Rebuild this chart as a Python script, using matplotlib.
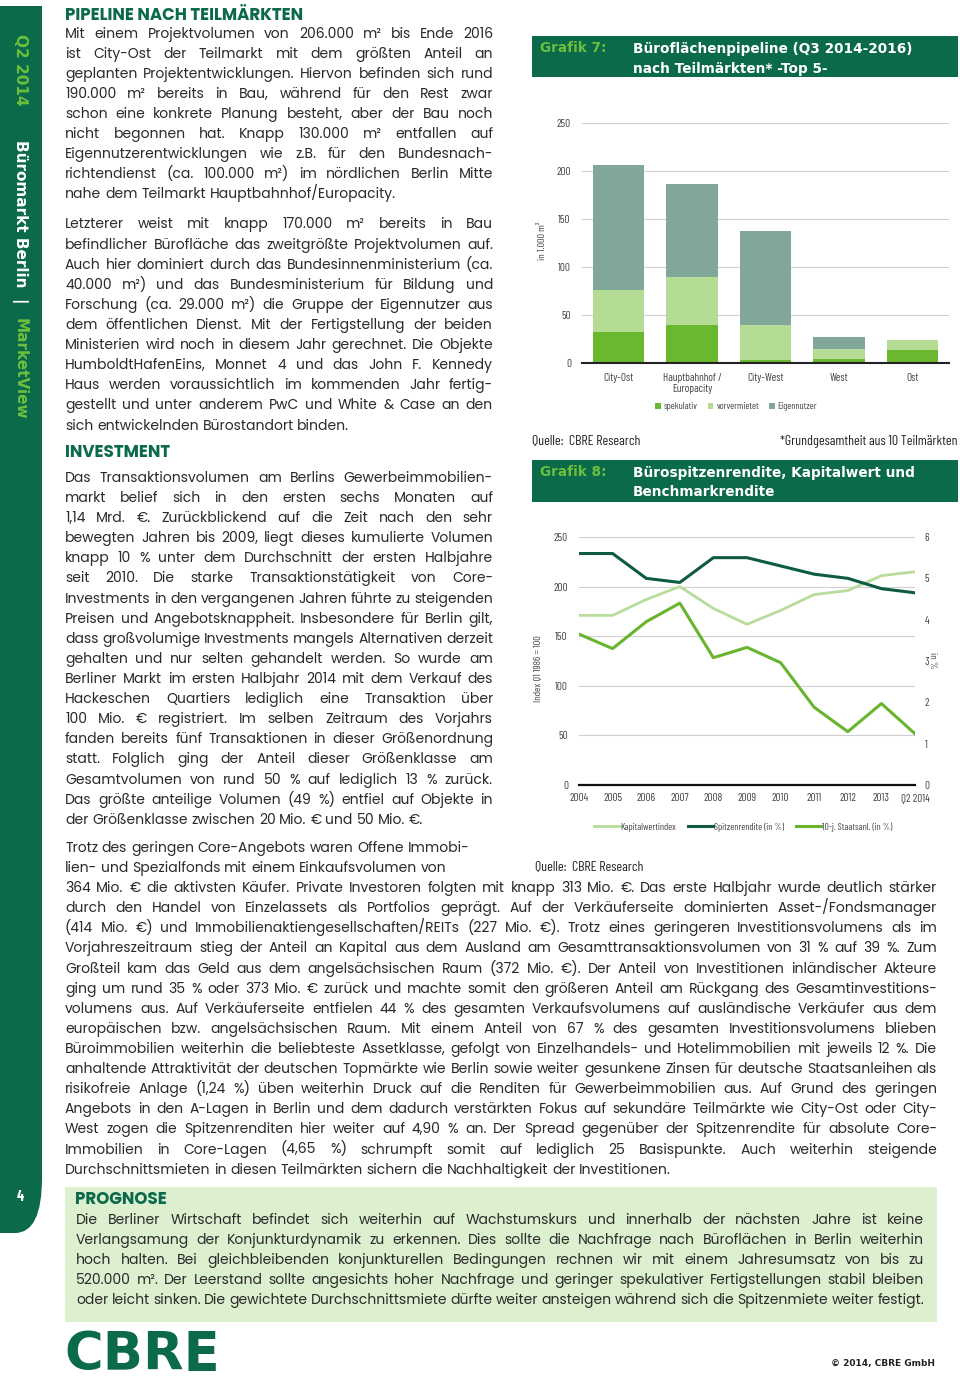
import matplotlib
matplotlib.use('Agg')
import matplotlib.pyplot as plt
from matplotlib import font_manager
from matplotlib.patches import Rectangle, FancyBboxPatch
from matplotlib.lines import Line2D

# ---------------- data: Grafik 7 (in 1.000 m²) ----------------
teilmaerkte = ['City-Ost', 'Hauptbahnhof /\nEuropacity', 'City-West', 'West', 'Ost']
spekulativ = [32, 40, 3.5, 4, 14]
vorvermietet = [44, 50, 36.5, 11, 9.5]
eigennutzer = [130, 96, 98, 12, 0]

# ---------------- data: Grafik 8 ----------------
jahre = ['2004', '2005', '2006', '2007', '2008', '2009', '2010', '2011', '2012', '2013', 'Q2 2014']
kapitalwertindex = [171, 171, 187, 200, 178, 162, 176, 192, 196, 211, 215]
spitzenrendite = [5.6, 5.6, 5.0, 4.9, 5.5, 5.5, 5.3, 5.1, 5.0, 4.75, 4.65]
staatsanleihe = [3.65, 3.3, 3.95, 4.4, 3.08, 3.33, 2.96, 1.88, 1.29, 1.97, 1.24]

# ---------------- text ----------------
para_pipeline_1 = [
    "Mit einem Projektvolumen von 206.000 m² bis Ende 2016",
    "ist City-Ost der Teilmarkt mit dem größten Anteil an",
    "geplanten Projektentwicklungen. Hiervon befinden sich rund",
    "190.000 m² bereits in Bau, während für den Rest zwar",
    "schon eine konkrete Planung besteht, aber der Bau noch",
    "nicht begonnen hat. Knapp 130.000 m² entfallen auf",
    "Eigennutzerentwicklungen wie z.B. für den Bundesnach-",
    "richtendienst (ca. 100.000 m²) im nördlichen Berlin Mitte",
    "nahe dem Teilmarkt Hauptbahnhof/Europacity.",
]
para_pipeline_2 = [
    "Letzterer weist mit knapp 170.000 m² bereits in Bau",
    "befindlicher Bürofläche das zweitgrößte Projektvolumen auf.",
    "Auch hier dominiert durch das Bundesinnenministerium (ca.",
    "40.000 m²) und das Bundesministerium für Bildung und",
    "Forschung (ca. 29.000 m²) die Gruppe der Eigennutzer aus",
    "dem öffentlichen Dienst. Mit der Fertigstellung der beiden",
    "Ministerien wird noch in diesem Jahr gerechnet. Die Objekte",
    "HumboldtHafenEins, Monnet 4 und das John F. Kennedy",
    "Haus werden voraussichtlich im kommenden Jahr fertig-",
    "gestellt und unter anderem PwC und White & Case an den",
    "sich entwickelnden Bürostandort binden.",
]
para_invest_1 = [
    "Das Transaktionsvolumen am Berlins Gewerbeimmobilien-",
    "markt belief sich in den ersten sechs Monaten auf",
    "1,14 Mrd. €. Zurückblickend auf die Zeit nach den sehr",
    "bewegten Jahren bis 2009, liegt dieses kumulierte Volumen",
    "knapp 10 % unter dem Durchschnitt der ersten Halbjahre",
    "seit 2010. Die starke Transaktionstätigkeit von Core-",
    "Investments in den vergangenen Jahren führte zu steigenden",
    "Preisen und Angebotsknappheit. Insbesondere für Berlin gilt,",
    "dass großvolumige Investments mangels Alternativen derzeit",
    "gehalten und nur selten gehandelt werden. So wurde am",
    "Berliner Markt im ersten Halbjahr 2014 mit dem Verkauf des",
    "Hackeschen Quartiers lediglich eine Transaktion über",
    "100 Mio. € registriert. Im selben Zeitraum des Vorjahrs",
    "fanden bereits fünf Transaktionen in dieser Größenordnung",
    "statt. Folglich ging der Anteil dieser Größenklasse am",
    "Gesamtvolumen von rund 50 % auf lediglich 13 % zurück.",
    "Das größte anteilige Volumen (49 %) entfiel auf Objekte in",
    "der Größenklasse zwischen 20 Mio. € und 50 Mio. €.",
]
para_invest_2_short = [
    "Trotz des geringen Core-Angebots waren Offene Immobi-",
    "lien- und Spezialfonds mit einem Einkaufsvolumen von",
]
para_invest_2_wide = [
    "364 Mio. € die aktivsten Käufer. Private Investoren folgten mit knapp 313 Mio. €. Das erste Halbjahr wurde deutlich stärker",
    "durch den Handel von Einzelassets als Portfolios geprägt. Auf der Verkäuferseite dominierten Asset-/Fondsmanager",
    "(414 Mio. €) und Immobilienaktiengesellschaften/REITs (227 Mio. €). Trotz eines geringeren Investitionsvolumens als im",
    "Vorjahreszeitraum stieg der Anteil an Kapital aus dem Ausland am Gesamttransaktionsvolumen von 31 % auf 39 %. Zum",
    "Großteil kam das Geld aus dem angelsächsischen Raum (372 Mio. €). Der Anteil von Investitionen inländischer Akteure",
    "ging um rund 35 % oder 373 Mio. € zurück und machte somit den größeren Anteil am Rückgang des Gesamtinvestitions-",
    "volumens aus. Auf Verkäuferseite entfielen 44 % des gesamten Verkaufsvolumens auf ausländische Verkäufer aus dem",
    "europäischen bzw. angelsächsischen Raum. Mit einem Anteil von 67 % des gesamten Investitionsvolumens blieben",
    "Büroimmobilien weiterhin die beliebteste Assetklasse, gefolgt von Einzelhandels- und Hotelimmobilien mit jeweils 12 %. Die",
    "anhaltende Attraktivität der deutschen Topmärkte wie Berlin sowie weiter gesunkene Zinsen für deutsche Staatsanleihen als",
    "risikofreie Anlage (1,24 %) üben weiterhin Druck auf die Renditen für Gewerbeimmobilien aus. Auf Grund des geringen",
    "Angebots in den A-Lagen in Berlin und dem dadurch verstärkten Fokus auf sekundäre Teilmärkte wie City-Ost oder City-",
    "West zogen die Spitzenrenditen hier weiter auf 4,90 % an. Der Spread gegenüber der Spitzenrendite für absolute Core-",
    "Immobilien in Core-Lagen (4,65 %) schrumpft somit auf lediglich 25 Basispunkte. Auch weiterhin steigende",
    "Durchschnittsmieten in diesen Teilmärkten sichern die Nachhaltigkeit der Investitionen.",
]
para_prognose = [
    "Die Berliner Wirtschaft befindet sich weiterhin auf Wachstumskurs und innerhalb der nächsten Jahre ist keine",
    "Verlangsamung der Konjunkturdynamik zu erkennen. Dies sollte die Nachfrage nach Büroflächen in Berlin weiterhin",
    "hoch halten. Bei gleichbleibenden konjunkturellen Bedingungen rechnen wir mit einem Jahresumsatz von bis zu",
    "520.000 m². Der Leerstand sollte angesichts hoher Nachfrage und geringer spekulativer Fertigstellungen stabil bleiben",
    "oder leicht sinken. Die gewichtete Durchschnittsmiete dürfte weiter ansteigen während sich die Spitzenmiete weiter festigt.",
]

# ---------------- colours / fonts ----------------
DARK_GREEN = '#0b6a4a'
LIGHT_GREEN = '#6cbf3e'
TXT = '#2a2a2a'
C_SPEK = '#6ab82e'
C_VORV = '#b5dc95'
C_EIG = '#80a797'
C_KAP = '#b8dc9c'
C_SPITZE = '#0e5a44'
C_STAAT = '#68b42f'

avail = {f.name for f in font_manager.fontManager.ttflist}


def pick(cands):
    for c in cands:
        if c in avail:
            return c
    return 'DejaVu Sans'


BODY = pick(['Poppins'])
NARROW = pick(['Barlow Condensed', 'Archivo Narrow', 'Fira Sans Extra Condensed', 'Liberation Sans Narrow'])
BODY_SIZE = 10.0 if BODY == 'Poppins' else 10.2
HEAD_SIZE = 12.0 if BODY == 'Poppins' else 10.5

W, H = 960, 1376
fig = plt.figure(figsize=(W / 100, H / 100), dpi=100)
renderer = fig.canvas.get_renderer()


def fx(x):
    return x / W


def fy(y):
    return 1 - y / H


def put_line(text, x0, x1, y, justify, size=BODY_SIZE, color=TXT):
    words = text.split(' ')
    objs = [fig.text(0, fy(y), w, fontsize=size, color=color, family=BODY,
                     ha='left', va='baseline') for w in words]
    widths = [o.get_window_extent(renderer).width for o in objs]
    sp = fig.text(0, 0, 'a a', fontsize=size, family=BODY)
    sp2 = fig.text(0, 0, 'aa', fontsize=size, family=BODY)
    space = sp.get_window_extent(renderer).width - sp2.get_window_extent(renderer).width
    sp.remove()
    sp2.remove()
    natural = sum(widths) + space * (len(words) - 1)
    if (justify or natural > x1 - x0) and len(words) > 1:
        gap = (x1 - x0 - sum(widths)) / (len(words) - 1)
    else:
        gap = space
    x = x0
    for o, w in zip(objs, widths):
        o.set_x(fx(x))
        x += w + gap


def put_par(lines, x0, x1, y0, step=20.1):
    for i, ln in enumerate(lines):
        put_line(ln, x0, x1, y0 + i * step, justify=(i < len(lines) - 1))


def heading(x, y, s):
    fig.text(fx(x), fy(y), s, fontsize=HEAD_SIZE, fontweight='bold', family=BODY,
             color=DARK_GREEN, ha='left', va='baseline')


# ---------------- sidebar ----------------
fig.patches.append(Rectangle((0, fy(1180)), fx(42), fy(6) - fy(1180),
                             transform=fig.transFigure, color=DARK_GREEN, lw=0))
fig.patches.append(FancyBboxPatch((fx(-60), fy(1233)), fx(102), fy(1120) - fy(1233),
                                  boxstyle='round,pad=0,rounding_size=0.028',
                                  transform=fig.transFigure, color=DARK_GREEN, lw=0,
                                  mutation_aspect=H / W))
fig.text(fx(20), fy(34), 'Q2 2014', rotation=270, ha='center', va='top',
         fontsize=11, fontweight='bold', color=LIGHT_GREEN)
fig.text(fx(20), fy(140), 'Büromarkt Berlin  |  ', rotation=270, ha='center', va='top',
         fontsize=11, fontweight='bold', color='white')
fig.text(fx(20), fy(318), 'MarketView', rotation=270, ha='center', va='top',
         fontsize=11, fontweight='bold', color=LIGHT_GREEN)
fig.text(fx(20), fy(1197), '4', ha='center', va='center', fontsize=10.5,
         fontweight='bold', color='white', family=NARROW)

# ---------------- left column text ----------------
heading(65, 20.5, 'PIPELINE NACH TEILMÄRKTEN')
put_par(para_pipeline_1, 65, 493, 37.5)
put_par(para_pipeline_2, 65, 493, 228.5)
heading(65, 456.5, 'INVESTMENT')
put_par(para_invest_1, 65, 493, 482)
for i, ln in enumerate(para_invest_2_short):
    put_line(ln, 65, 493, 852 + i * 20.1, justify=False)
put_par(para_invest_2_wide, 65, 937, 852 + 2 * 20.1)

# ---------------- Prognose box ----------------
fig.patches.append(Rectangle((fx(65), fy(1322)), fx(937) - fx(65), fy(1187) - fy(1322),
                             transform=fig.transFigure, color='#dcefcf', lw=0))
heading(75, 1203.5, 'PROGNOSE')
put_par(para_prognose, 76, 924, 1224)

# ---------------- footer ----------------
fig.text(fx(64), fy(1370), 'CBRE', fontsize=38, fontweight='bold', color=DARK_GREEN,
         ha='left', va='baseline')
fig.text(fx(935), fy(1366), '© 2014, CBRE GmbH', fontsize=6.5, fontweight='bold',
         color='#222222', ha='right', va='baseline')


# ---------------- chart headers ----------------
def header(y_top, y_bot, line1, line2, label):
    fig.patches.append(Rectangle((fx(532), fy(y_bot)), fx(958) - fx(532), fy(y_top) - fy(y_bot),
                                 transform=fig.transFigure, color=DARK_GREEN, lw=0))
    fig.text(fx(540), fy(y_top + 16.5), label, fontsize=9.8, fontweight='bold',
             color=LIGHT_GREEN, ha='left', va='baseline')
    fig.text(fx(633), fy(y_top + 16.5), line1, fontsize=9.8, fontweight='bold',
             color='white', ha='left', va='baseline')
    fig.text(fx(633), fy(y_top + 36.5), line2, fontsize=9.8, fontweight='bold',
             color='white', ha='left', va='baseline')


header(36, 77, 'Büroflächenpipeline (Q3 2014-2016)', 'nach Teilmärkten* -Top 5-', 'Grafik 7:')
header(460, 502, 'Bürospitzenrendite, Kapitalwert und', 'Benchmarkrendite', 'Grafik 8:')

CH = dict(family=NARROW, color='#444444')
TICK = 8

# ---------------- Grafik 7 ----------------
ax1 = fig.add_axes([fx(582), fy(363), fx(949) - fx(582), fy(123) - fy(363)])
x = range(len(teilmaerkte))
bottom2 = [a + b for a, b in zip(spekulativ, vorvermietet)]
ax1.bar(x, spekulativ, width=0.7, color=C_SPEK, label='spekulativ', zorder=3)
ax1.bar(x, vorvermietet, width=0.7, bottom=spekulativ, color=C_VORV, label='vorvermietet', zorder=3)
ax1.bar(x, eigennutzer, width=0.7, bottom=bottom2, color=C_EIG, label='Eigennutzer', zorder=3)
ax1.set_xlim(-0.5, len(teilmaerkte) - 0.5)
ax1.set_ylim(0, 250)
ax1.set_yticks([0, 50, 100, 150, 200, 250])
ax1.set_xticks(list(x))
ax1.set_xticklabels(teilmaerkte, fontsize=TICK, linespacing=1.15, **CH)
ax1.grid(axis='y', color='#d0d0d0', lw=0.8, zorder=0)
for s in ['top', 'right', 'left']:
    ax1.spines[s].set_visible(False)
ax1.spines['bottom'].set_color('#222222')
ax1.spines['bottom'].set_linewidth(1.5)
ax1.spines['bottom'].set_zorder(4)
ax1.tick_params(length=0, labelsize=TICK, labelcolor='#444444')
ax1.tick_params(axis='y', pad=8)
ax1.tick_params(axis='x', pad=7)
for t in ax1.get_yticklabels():
    t.set_family(NARROW)
ax1.set_ylabel('in 1.000 m²', fontsize=7.5, **CH)
ax1.yaxis.set_label_coords(-0.095, 0.51)
ax1.legend(ncol=3, loc='center', bbox_to_anchor=(0.42, -0.183), frameon=False,
           handlelength=0.6, handleheight=0.6, handletextpad=0.3, columnspacing=1.0,
           prop={'family': NARROW, 'size': 7}, labelcolor='#444444')
ax1.set_facecolor('none')

fig.text(fx(532), fy(445), 'Quelle:  CBRE Research', family=NARROW, fontsize=10,
         color='#222222', ha='left', va='baseline')
fig.text(fx(957), fy(445), '*Grundgesamtheit aus 10 Teilmärkten', family=NARROW, fontsize=10,
         color='#222222', ha='right', va='baseline')

# ---------------- Grafik 8 ----------------
ax2 = fig.add_axes([fx(579), fy(785), fx(915) - fx(579), fy(537) - fy(785)])
ax3 = ax2.twinx()
xi = list(range(len(jahre)))
ax2.plot(xi, kapitalwertindex, color=C_KAP, lw=2, label='Kapitalwertindex', zorder=3)
ax3.plot(xi, spitzenrendite, color=C_SPITZE, lw=2.2, label='Spitzenrendite (in %)', zorder=3)
ax3.plot(xi, staatsanleihe, color=C_STAAT, lw=2.2, label='10-j. Staatsanl. (in %)', zorder=3)
ax2.set_xlim(0, len(jahre) - 1)
ax2.set_ylim(0, 250)
ax3.set_ylim(0, 6)
ax2.set_yticks([0, 50, 100, 150, 200, 250])
ax3.set_yticks([0, 1, 2, 3, 4, 5, 6])
ax2.set_xticks(xi)
ax2.set_xticklabels(jahre)
ax2.grid(axis='y', color='#d0d0d0', lw=0.8, zorder=0)
for a in (ax2, ax3):
    for s in ['top', 'right', 'left']:
        a.spines[s].set_visible(False)
    a.spines['bottom'].set_visible(False)
    a.tick_params(length=0, labelsize=TICK, labelcolor='#444444')
    for t in a.get_yticklabels() + a.get_xticklabels():
        t.set_family(NARROW)
ax2.axhline(0, color='#111111', lw=1.6, zorder=4, clip_on=False)
ax2.tick_params(axis='y', pad=8)
ax2.tick_params(axis='x', pad=6)
ax3.tick_params(axis='y', pad=7)
ax2.set_ylabel('Index Q1 1986 = 100', fontsize=7.5, **CH)
ax2.yaxis.set_label_coords(-0.107, 0.47)
ax3.set_ylabel('in %', fontsize=7.5, rotation=270, **CH)
ax3.yaxis.set_label_coords(1.065, 0.5)
handles = [Line2D([], [], color=C_KAP, lw=2),
           Line2D([], [], color=C_SPITZE, lw=2.2),
           Line2D([], [], color=C_STAAT, lw=2.2)]
ax2.legend(handles, ['Kapitalwertindex', 'Spitzenrendite (in %)', '10-j. Staatsanl. (in %)'],
           ncol=3, loc='center', bbox_to_anchor=(0.49, -0.169), frameon=False,
           handlelength=2.6, handletextpad=0.1, columnspacing=1.2,
           prop={'family': NARROW, 'size': 7}, labelcolor='#444444')

fig.text(fx(535), fy(871), 'Quelle:  CBRE Research', family=NARROW, fontsize=10,
         color='#222222', ha='left', va='baseline')

fig.savefig('out.png', dpi=100)
